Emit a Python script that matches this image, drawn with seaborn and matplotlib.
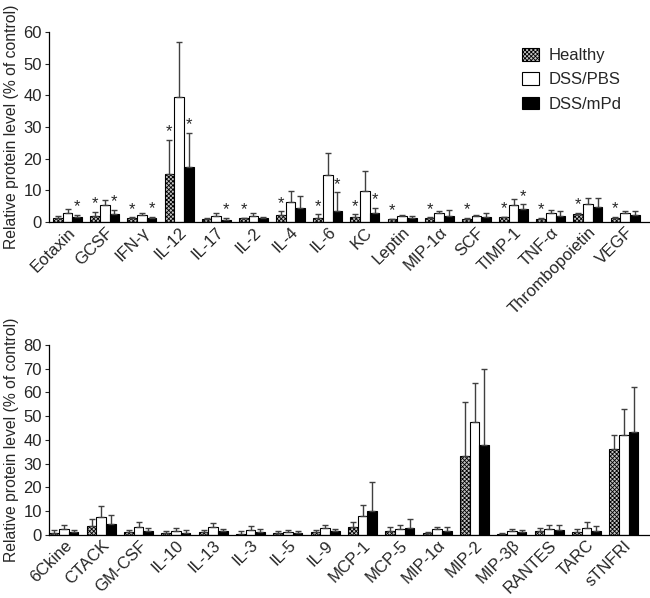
import numpy as np
import pandas as pd
import matplotlib
matplotlib.use('Agg')
import matplotlib.pyplot as plt
import seaborn as sns
from matplotlib.patches import Patch

sns.set_style('ticks')
plt.rcParams['font.family'] = ['Liberation Sans', 'DejaVu Sans']
plt.rcParams['hatch.color'] = '#6e6e6e'
plt.rcParams['hatch.linewidth'] = 0.6

groups = ['Healthy', 'DSS/PBS', 'DSS/mPd']

# painel superior
top_cats = ['Eotaxin', 'GCSF', 'IFN-γ', 'IL-12', 'IL-17', 'IL-2', 'IL-4', 'IL-6', 'KC',
            'Leptin', 'MIP-1α', 'SCF', 'TIMP-1', 'TNF-α', 'Thrombopoietin', 'VEGF']
top_healthy = [1.4, 1.9, 1.2, 15.2, 0.9, 1.2, 2.3, 1.2, 1.5, 0.8, 1.2, 0.9, 1.6, 0.8, 2.6, 1.3]
top_pbs = [2.9, 5.4, 2.1, 39.5, 1.9, 1.9, 6.4, 14.8, 9.9, 1.9, 2.7, 1.9, 5.3, 2.7, 5.6, 2.7]
top_mpd = [1.6, 2.4, 1.3, 17.5, 0.7, 1.3, 4.4, 3.5, 2.7, 1.3, 2.0, 1.7, 4.0, 1.9, 4.6, 2.2]
top_healthy_err = [0.5, 1.3, 0.3, 10.8, 0.3, 0.2, 1.1, 1.2, 0.9, 0.2, 0.3, 0.4, 0.1, 0.4, 0.2, 0.4]
top_pbs_err = [1.1, 1.6, 0.8, 17.3, 0.9, 0.9, 3.3, 6.9, 6.3, 0.2, 0.8, 0.3, 2.1, 1.0, 2.1, 0.7]
top_mpd_err = [0.6, 1.5, 0.4, 10.7, 0.6, 0.2, 3.8, 5.9, 1.7, 0.7, 1.7, 1.0, 1.6, 1.6, 3.1, 1.3]
top_star_healthy = [0, 1, 1, 1, 0, 1, 1, 1, 1, 1, 1, 1, 1, 1, 1, 1]
top_star_mpd = [1, 1, 1, 1, 1, 0, 0, 1, 1, 0, 0, 0, 1, 0, 0, 0]

# painel inferior
bot_cats = ['6Ckine', 'CTACK', 'GM-CSF', 'IL-10', 'IL-13', 'IL-3', 'IL-5', 'IL-9', 'MCP-1',
            'MCP-5', 'MIP-1α', 'MIP-2', 'MIP-3β', 'RANTES', 'TARC', 'sTNFRI']
bot_healthy = [1.0, 3.8, 1.3, 0.8, 1.3, 0.6, 0.8, 1.1, 3.4, 1.8, 1.0, 33.1, 0.4, 1.7, 1.1, 36.4]
bot_pbs = [2.5, 7.7, 3.4, 1.7, 3.2, 2.2, 1.3, 2.8, 8.0, 2.5, 2.5, 47.4, 1.7, 2.5, 2.9, 42.0]
bot_mpd = [1.1, 4.5, 1.8, 1.0, 1.7, 1.4, 1.0, 1.7, 9.9, 2.9, 1.8, 37.8, 1.3, 2.1, 1.5, 43.5]
bot_healthy_err = [1.1, 2.9, 0.9, 0.7, 0.9, 0.9, 0.7, 1.0, 2.1, 1.6, 0.3, 23.0, 0.6, 1.1, 1.3, 5.8]
bot_pbs_err = [1.6, 4.3, 2.1, 1.1, 2.0, 1.6, 0.8, 1.2, 4.7, 1.7, 0.7, 16.7, 0.8, 1.6, 2.4, 11.1]
bot_mpd_err = [1.1, 4.0, 1.1, 1.1, 0.8, 1.3, 0.7, 0.8, 12.2, 3.8, 1.4, 31.9, 0.9, 2.0, 2.1, 18.7]

face = {'Healthy': '#c4c4c4', 'DSS/PBS': 'white', 'DSS/mPd': 'black'}
hatch = {'Healthy': 'xxxxxxxx', 'DSS/PBS': '', 'DSS/mPd': ''}
FS = 12


def painel(ax, cats, vals, errs, stars, ymax, xlim):
    df = pd.DataFrame({
        'cat': np.tile(cats, 3),
        'grupo': np.repeat(groups, len(cats)),
        'valor': np.concatenate(vals),
    })
    sns.barplot(data=df, x='cat', y='valor', hue='grupo', hue_order=groups,
                order=cats, errorbar=None, width=0.78, ax=ax, legend=False,
                edgecolor='black', linewidth=0.8, saturation=1)
    for g, cont, err, st in zip(groups, ax.containers, errs, stars):
        for i, bar in enumerate(cont):
            bar.set_facecolor(face[g])
            bar.set_hatch(hatch[g])
            x = bar.get_x() + bar.get_width() / 2
            h = bar.get_height()
            ax.errorbar(x, h, yerr=[[0], [err[i]]], fmt='none', ecolor='#404040',
                        elinewidth=1.0, capsize=2.5, capthick=1.0, zorder=1)
            if st is not None and st[i]:
                ax.text(x, h + err[i] + ymax * 0.003, '*', ha='center', va='bottom',
                        fontsize=12)
    ax.set_ylim(0, ymax)
    ax.set_xlim(*xlim)
    ax.set_xlabel('')
    ax.set_ylabel('Relative protein level (% of control)', fontsize=11.3, labelpad=3)
    ax.tick_params(axis='x', length=0, labelsize=FS, pad=2)
    ax.tick_params(axis='y', labelsize=FS, length=3, width=0.8, pad=2)
    plt.setp(ax.get_xticklabels(), rotation=45, ha='right', rotation_mode='anchor')
    sns.despine(ax=ax)
    for s in ['left', 'bottom']:
        ax.spines[s].set_linewidth(0.9)
        ax.spines[s].set_color('black')


fig = plt.figure(figsize=(6.5, 5.98), dpi=100)
ax1 = fig.add_axes([0.0754, 0.6288, 0.9246, 0.3177])
ax2 = fig.add_axes([0.0754, 0.1054, 0.9246, 0.3177])

painel(ax1, top_cats, [top_healthy, top_pbs, top_mpd],
       [top_healthy_err, top_pbs_err, top_mpd_err],
       [top_star_healthy, None, top_star_mpd], 60, (-0.5, 15.67))
ax1.set_yticks(range(0, 61, 10))

painel(ax2, bot_cats, [bot_healthy, bot_pbs, bot_mpd],
       [bot_healthy_err, bot_pbs_err, bot_mpd_err],
       [None, None, None], 80, (-0.4, 15.7))
ax2.set_yticks(range(0, 81, 10))

handles = [Patch(facecolor=face[g], hatch=hatch[g], edgecolor='black', linewidth=0.8, label=g)
           for g in groups]
fig.legend(handles=handles, loc='upper left', bbox_to_anchor=(0.78, 0.945), frameon=False,
           fontsize=FS, handlelength=1.0, handleheight=0.8, labelspacing=0.55,
           handletextpad=0.6)

fig.savefig('out.png', dpi=100)
